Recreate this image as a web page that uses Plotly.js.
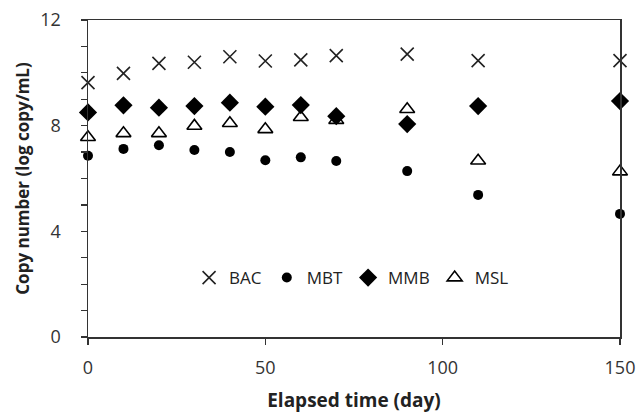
<!DOCTYPE html>
<html><head><meta charset="utf-8">
<script src="https://cdn.plot.ly/plotly-3.0.1.min.js"></script>
<style>html,body{margin:0;padding:0;background:#fff}#c{width:639px;height:413px}</style>
</head><body><div id="c"></div>
<script>
const days = [0, 10, 20, 30, 40, 50, 60, 70, 90, 110, 150];
const BAC = [9.63, 9.98, 10.36, 10.40, 10.61, 10.45, 10.49, 10.65, 10.71, 10.46, 10.46];
const MBT = [6.86, 7.12, 7.26, 7.08, 7.00, 6.69, 6.80, 6.66, 6.28, 5.38, 4.66];
const MMB = [8.50, 8.77, 8.68, 8.74, 8.87, 8.72, 8.78, 8.36, 8.06, 8.74, 8.93];
const MSL = [7.56, 7.71, 7.71, 7.99, 8.09, 7.86, 8.32, 8.21, 8.62, 6.67, 6.26];
const yTicks = [0, 4, 8, 12];
const xTicks = [0, 50, 100, 150];

const font = "'Open Sans', sans-serif";
const traces = [
  {x: days, y: BAC, name: 'BAC', mode: 'markers', type: 'scatter',
   marker: {symbol: 'x-thin-open', size: 13, color: '#222', line: {color: '#222', width: 1.6}}, cliponaxis: false},
  {x: days, y: MBT, name: 'MBT', mode: 'markers', type: 'scatter',
   marker: {symbol: 'circle', size: 10, color: '#000'}, cliponaxis: false},
  {x: days, y: MMB, name: 'MMB', mode: 'markers', type: 'scatter',
   marker: {symbol: 'diamond', size: 14, color: '#000'}, cliponaxis: false},
  {x: days, y: MSL, name: 'MSL', mode: 'markers', type: 'scatter',
   marker: {symbol: 'triangle-up-open', size: 13, color: '#000', line: {color: '#000', width: 1.6}}, cliponaxis: false}
];
const layout = {
  width: 639, height: 413,
  margin: {l: 88, r: 19, t: 20, b: 76},
  paper_bgcolor: '#fff', plot_bgcolor: '#fff',
  font: {family: font, color: '#222', size: 17},
  showlegend: true,
  legend: {orientation: 'h', x: 0.19, y: 0.186, xanchor: 'left', yanchor: 'middle', itemwidth: 30,
           font: {size: 17, family: font, color: '#222'}, bgcolor: 'rgba(0,0,0,0)', tracegroupgap: 0},
  xaxis: {range: [0, 150], tickvals: xTicks, ticktext: xTicks.map(String),
          showgrid: false, zeroline: false, showline: true, linecolor: '#333', linewidth: 1.5,
          mirror: true, ticks: 'outside', ticklen: 6, tickcolor: '#333', tickwidth: 1.5,
          ticklabelstandoff: 8,
          tickfont: {size: 18, family: font, color: '#333'},
          title: {text: '<b>Elapsed time (day)</b>', font: {size: 19, family: font, color: '#222'}, standoff: 16}},
  yaxis: {range: [0, 12], tickvals: yTicks, ticktext: yTicks.map(String),
          showgrid: false, zeroline: false, showline: true, linecolor: '#333', linewidth: 1.5,
          mirror: true, ticks: 'outside', ticklen: 6, tickcolor: '#333', tickwidth: 1.5,
          ticklabelstandoff: 16,
          minor: {dtick: 1, ticks: 'outside', ticklen: 6, tickcolor: '#333', tickwidth: 1.2, showgrid: false},
          tickfont: {size: 18, family: font, color: '#333'},
          title: {text: '<b>Copy number (log copy/mL)</b>', font: {size: 17, family: font, color: '#222'}, standoff: 6}}
};
Plotly.newPlot('c', traces, layout, {displayModeBar: false, staticPlot: true});
</script></body></html>
